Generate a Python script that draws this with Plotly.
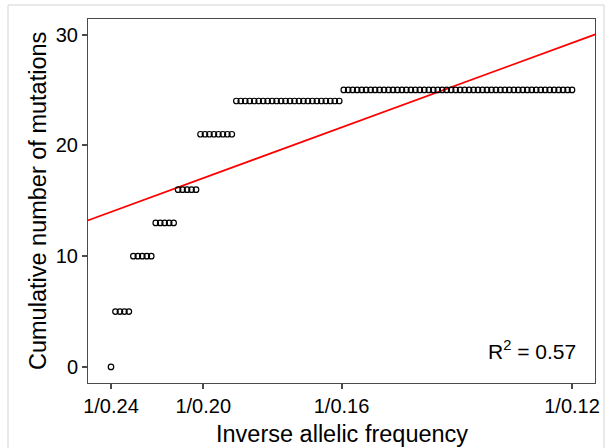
import numpy as np
import plotly.graph_objects as go

# cumulative mutation counts, one level per run of points
levels = [0, 5, 10, 13, 16, 21, 24, 25]
counts = [1, 4, 5, 5, 5, 8, 24, 52]

# inverse allelic frequency grid: 1/0.24 ... 1/0.12
f_max = 0.24
f_min = 0.12
tick_vals = [1 / 0.24, 1 / 0.20, 1 / 0.16, 1 / 0.12]
tick_text = ["1/0.24", "1/0.20", "1/0.16", "1/0.12"]

# fitted line
fit_slope = 3.66
fit_intercept = -1.26
r2_text = "R<sup>2</sup> = 0.57"

n_pts = sum(counts)
inv_f = np.linspace(1 / f_max, 1 / f_min, n_pts)
cum_mut = np.repeat(levels, counts)

x_rng = [3.959, 8.541]
y_rng = [-1.45, 31.4]

# plot area in pixels
L, R, T, B = 88, 595, 19, 383
W, H = R - L, B - T


def px_x(p):
    return (p - L) / W


def px_y(p):
    return (B - p) / H


fig = go.Figure()

fig.add_trace(go.Scatter(
    x=[x_rng[0] - 0.2, x_rng[1] + 0.2],
    y=[fit_intercept + fit_slope * (x_rng[0] - 0.2),
       fit_intercept + fit_slope * (x_rng[1] + 0.2)],
    mode="lines",
    line=dict(color="#ff0000", width=1.7),
    hoverinfo="skip",
))

fig.add_trace(go.Scatter(
    x=inv_f, y=cum_mut,
    mode="markers",
    marker=dict(symbol="circle-open", size=5.5, color="black",
                line=dict(width=1.2)),
))

axis_col = "#4a4a4a"
fig.update_xaxes(
    range=x_rng, tickvals=tick_vals, ticktext=tick_text,
    showgrid=False, zeroline=False, automargin=False,
    showline=True, linecolor=axis_col, linewidth=1, mirror=True,
    ticks="outside", ticklen=5, tickcolor=axis_col, tickwidth=1.5,
    tickfont=dict(size=20, color="black"),
)
fig.update_yaxes(
    range=y_rng, tickvals=[0, 10, 20, 30],
    showgrid=False, zeroline=False, automargin=False,
    showline=True, linecolor=axis_col, linewidth=1, mirror=True,
    ticks="outside", ticklen=5, tickcolor=axis_col, tickwidth=1.5,
    tickfont=dict(size=20, color="black"),
)

fig.add_annotation(
    text="Inverse allelic frequency", xref="paper", yref="paper",
    x=0.5, y=px_y(434), xanchor="center", yanchor="middle",
    showarrow=False, font=dict(size=23.5, color="black"),
)
fig.add_annotation(
    text="Cumulative number of mutations", xref="paper", yref="paper",
    x=px_x(38), y=0.5, xanchor="center", yanchor="middle", textangle=-90,
    showarrow=False, font=dict(size=23.5, color="black"),
)
fig.add_annotation(
    text=r2_text, xref="paper", yref="paper",
    x=px_x(578), y=px_y(350),
    xanchor="right", yanchor="middle", showarrow=False,
    font=dict(size=21, color="black"),
)

# light outer frame around the whole figure
fig.add_shape(
    type="rect", xref="paper", yref="paper",
    x0=px_x(8), x1=px_x(604), y0=px_y(470), y1=px_y(5),
    line=dict(color="#d4d4d4", width=1),
)

fig.update_layout(
    width=609, height=448,
    margin=dict(l=L, r=609 - R, t=T, b=448 - B),
    paper_bgcolor="white", plot_bgcolor="white",
    showlegend=False,
    font=dict(family="Liberation Sans, Arial, sans-serif"),
)

fig.write_html("out.html", config={"displayModeBar": False},
               post_script="document.body.style.margin='0';")
